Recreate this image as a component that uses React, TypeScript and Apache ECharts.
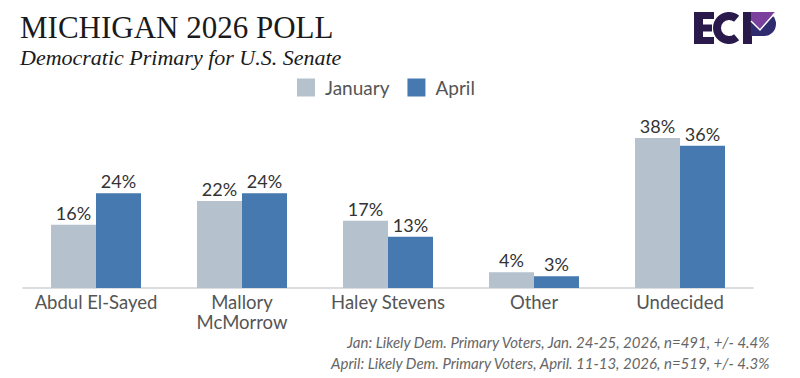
import React, { useEffect, useRef } from "react";
import * as echarts from "echarts";

const categories = ["Abdul El-Sayed", "Mallory\nMcMorrow", "Haley Stevens", "Other", "Undecided"];
const january = [16, 22, 17, 4, 38];
const april = [24, 24, 13, 3, 36];
const seriesNames = ["January", "April"];
const title = "MICHIGAN 2026 POLL";
const subtitle = "Democratic Primary for U.S. Senate";
const notes = [
  "Jan: Likely Dem. Primary Voters, Jan. 24-25, 2026, n=491, +/- 4.4%",
  "April: Likely Dem. Primary Voters, April. 11-13, 2026, n=519, +/- 4.3%",
];

const SANS = "Lato, 'Open Sans', sans-serif";
const SERIF = "'Liberation Serif', 'DejaVu Serif', serif";
const DARK = "#2A1A4C";

export default function App() {
  const ref = useRef<HTMLDivElement>(null);
  useEffect(() => {
    if (!ref.current) return;
    const chart = echarts.init(ref.current, null, { renderer: "svg" });
    const label = {
      show: true,
      position: "top",
      distance: 3,
      formatter: "{c}%",
      fontFamily: SANS,
      fontSize: 18,
      color: "#333",
    };
    chart.setOption({
      animation: false,
      backgroundColor: "#fff",
      grid: { left: 23, right: 47, top: 130, height: 158 },
      legend: {
        data: seriesNames,
        left: 297,
        top: 78,
        padding: 0,
        itemWidth: 18,
        itemHeight: 18,
        itemGap: 18,
        icon: "rect",
        textStyle: { fontFamily: SANS, fontSize: 19, color: "#555", padding: [0, 0, 0, 5] },
      },
      xAxis: {
        type: "category",
        data: categories,
        axisLine: { lineStyle: { color: "#cfd3d6", width: 1.5 } },
        axisTick: { show: false },
        axisLabel: {
          fontFamily: SANS,
          fontSize: 18.5,
          color: "#555",
          margin: 4,
          lineHeight: 20,
          interval: 0,
        },
      },
      yAxis: {
        type: "value",
        min: 0,
        max: 40,
        show: false,
        splitLine: { show: false },
      },
      series: [
        {
          name: seriesNames[0],
          type: "bar",
          data: january,
          barWidth: 45,
          barGap: "0%",
          itemStyle: { color: "#B5C1CC" },
          label,
        },
        {
          name: seriesNames[1],
          type: "bar",
          data: april,
          barWidth: 45,
          barGap: "0%",
          itemStyle: { color: "#4679B0" },
          label,
        },
      ],
      graphic: [
        {
          type: "text",
          left: 20,
          top: 12,
          style: { text: title, fontFamily: SERIF, fontSize: 31, lineHeight: 31, fill: "#1a1a1a" },
        },
        {
          type: "text",
          left: 20,
          top: 45,
          style: { text: subtitle, fontFamily: SERIF, fontStyle: "italic", fontSize: 22, lineHeight: 24, fill: "#1a1a1a" },
        },
        {
          type: "text",
          right: 29,
          top: 334,
          style: { text: notes[0], fontFamily: SANS, fontStyle: "italic", fontSize: 15, fill: "#666" },
        },
        {
          type: "text",
          right: 29,
          top: 355,
          style: { text: notes[1], fontFamily: SANS, fontStyle: "italic", fontSize: 15, fill: "#666" },
        },
        // Logo: E
        { type: "rect", shape: { x: 694, y: 12, width: 9, height: 32 }, style: { fill: DARK } },
        { type: "rect", shape: { x: 694, y: 12, width: 20, height: 7 }, style: { fill: DARK } },
        { type: "rect", shape: { x: 694, y: 24.5, width: 18, height: 7 }, style: { fill: DARK } },
        { type: "rect", shape: { x: 694, y: 37, width: 20, height: 7 }, style: { fill: DARK } },
        // C
        {
          type: "arc",
          shape: { cx: 729, cy: 28, r: 12, startAngle: Math.PI * 0.28, endAngle: Math.PI * 1.72, clockwise: true },
          style: { stroke: DARK, lineWidth: 8, fill: "none" },
        },
        // P
        { type: "rect", shape: { x: 743, y: 12, width: 9, height: 32 }, style: { fill: DARK } },
        { type: "rect", shape: { x: 751, y: 12, width: 13, height: 24 }, style: { fill: "#2F2B6E" } },
        {
          type: "sector",
          shape: { cx: 764, cy: 24, r0: 0, r: 12, startAngle: -Math.PI / 2, endAngle: Math.PI / 2, clockwise: true },
          style: { fill: "#2F2B6E" },
        },
        {
          type: "polygon",
          shape: { points: [[751, 12], [775, 12], [760, 29], [751, 20]] },
          style: { fill: "#7B3F9E" },
        },
        {
          type: "polyline",
          shape: { points: [[751, 21], [760, 30], [775, 13]] },
          style: { stroke: "#fff", lineWidth: 1.5, fill: "none" },
        },
      ],
    });
    return () => chart.dispose();
  }, []);
  return <div ref={ref} style={{ width: 800, height: 378, position: "absolute", left: 0, top: 0 }} />;
}
